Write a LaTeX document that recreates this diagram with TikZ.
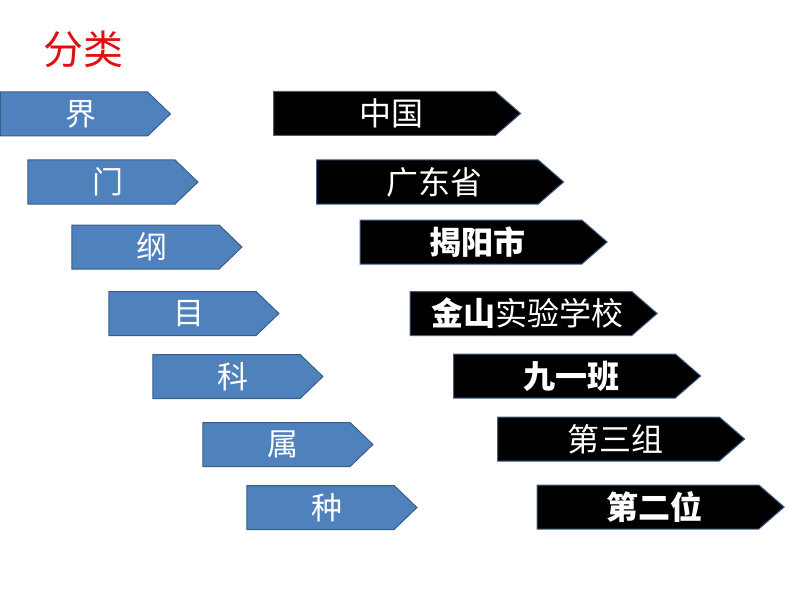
\documentclass[tikz,border=0pt]{standalone}
\usepackage{fontspec}
\newfontfamily\cjk{Noto Sans CJK SC}
\definecolor{rankBlue}{HTML}{4F81BD}
\definecolor{rankEdge}{HTML}{385D8A}
\definecolor{placeEdge}{HTML}{3F5F8C}
\definecolor{titleRed}{HTML}{E01010}
\usetikzlibrary{shapes.symbols}

\begin{document}
\begin{tikzpicture}[
        x=1pt, y=-1pt,
        rank/.style={signal, signal to=east, signal pointer angle=88, draw=rankEdge, fill=rankBlue,
                     line width=1pt, minimum width=170pt, minimum height=44pt, inner sep=0pt,
                     text=white, font=\cjk\fontsize{31}{34}\selectfont,
                     execute at begin node=\hspace*{13pt}},
        place/.style={signal, signal to=east, signal pointer angle=82, draw=placeEdge, fill=black,
                      line width=1pt, minimum width=247pt, minimum height=44pt, inner sep=0pt,
                      text=white, font=\cjk\fontsize{32}{35}\selectfont,
                      execute at begin node=\hspace*{13pt}}
      ]
        \useasboundingbox (0,0) rectangle (794,596);
        \node[text=titleRed, font=\cjk\fontsize{40}{44}\selectfont] (title) at (83, 49) {分类};
        % biological ranks
        \node[rank] (jie) at (74, 114) {界};
        \node[rank] (men) at (101.5, 182) {门};
        \node[rank] (gang) at (145.5, 247) {纲};
        \node[rank] (mu) at (182.5, 313.5) {目};
        \node[rank] (ke) at (226.5, 376.5) {科};
        \node[rank] (shu) at (276.5, 444.5) {属};
        \node[rank] (zhong) at (320.5, 507.5) {种};
        % matching places
        \node[place] (country) at (384.5, 113.5) {中国};
        \node[place] (province) at (427.5, 182) {广东省};
        \node[place] (city) at (471, 242) {\bfseries 揭阳市};
        \node[place] (school) at (521, 313.5) {{\bfseries 金山}实验学校};
        \node[place] (class) at (564.5, 376) {\bfseries 九一班};
        \node[place] (group) at (608.5, 439) {第三组};
        \node[place] (seat) at (648, 507) {\bfseries 第二位};
      \end{tikzpicture}
\end{document}
